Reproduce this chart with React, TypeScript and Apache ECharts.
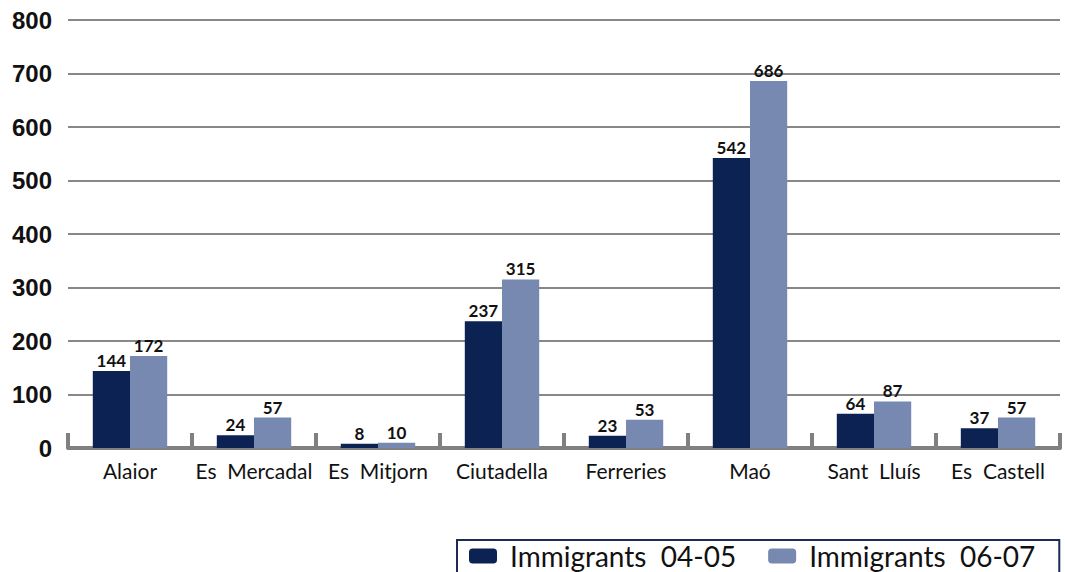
import React, { useEffect, useRef } from "react";
import * as echarts from "echarts";

const categories = ["Alaior", "Es  Mercadal", "Es  Mitjorn", "Ciutadella", "Ferreries", "Maó", "Sant  Lluís", "Es  Castell"];
const series0405 = [144, 24, 8, 237, 23, 542, 64, 37];
const series0607 = [172, 57, 10, 315, 53, 686, 87, 57];
const seriesNames = ["Immigrants  04-05", "Immigrants  06-07"];
const yTicks = { min: 0, max: 800, interval: 100 };

export default function App() {
  const ref = useRef<HTMLDivElement>(null);
  useEffect(() => {
    if (!ref.current) return;
    const chart = echarts.init(ref.current, undefined, { renderer: "svg" });
    const labelStyle = {
      show: true,
      position: "top",
      distance: 2,
      color: "#111",
      fontFamily: "Lato",
      fontWeight: "bold",
      fontSize: 17,
    };
    chart.setOption({
      animation: false,
      backgroundColor: "#fff",
      grid: { left: 68, right: 5, top: 20, bottom: 124, containLabel: false },
      legend: {
        left: 457,
        top: 540,
        padding: [2, 22, 8, 12],
        borderColor: "#1b2b55",
        borderWidth: 2,
        itemWidth: 28,
        itemHeight: 15,
        itemGap: 30,
        textStyle: { fontFamily: "Lato", fontSize: 28, lineHeight: 27, color: "#111", padding: [0, 2, 0, 8] },
        data: seriesNames,
      },
      xAxis: {
        type: "category",
        data: categories,
        axisLine: { show: true, lineStyle: { color: "#808080", width: 4 } },
        axisTick: { show: true, inside: true, length: 15, lineStyle: { color: "#808080", width: 4 } },
        axisLabel: { interval: 0, fontFamily: "Lato", fontSize: 21, color: "#111", margin: 12 },
      },
      yAxis: {
        type: "value",
        min: yTicks.min,
        max: yTicks.max,
        interval: yTicks.interval,
        axisLine: { show: false },
        axisTick: { show: false },
        splitLine: { lineStyle: { color: "#888", width: 2 } },
        axisLabel: { fontFamily: "Liberation Sans", fontWeight: "bold", fontSize: 24, color: "#111", margin: 16 },
      },
      series: [
        {
          name: seriesNames[0],
          type: "bar",
          data: series0405,
          barWidth: "30%",
          barGap: "0%",
          itemStyle: { color: "#0c2253" },
          label: labelStyle,
        },
        {
          name: seriesNames[1],
          type: "bar",
          data: series0607,
          barWidth: "30%",
          barGap: "0%",
          itemStyle: { color: "#7789b1" },
          label: labelStyle,
        },
      ],
    });
    return () => chart.dispose();
  }, []);
  return <div ref={ref} style={{ position: "fixed", left: 0, top: 0, width: 1065, height: 572 }} />;
}
